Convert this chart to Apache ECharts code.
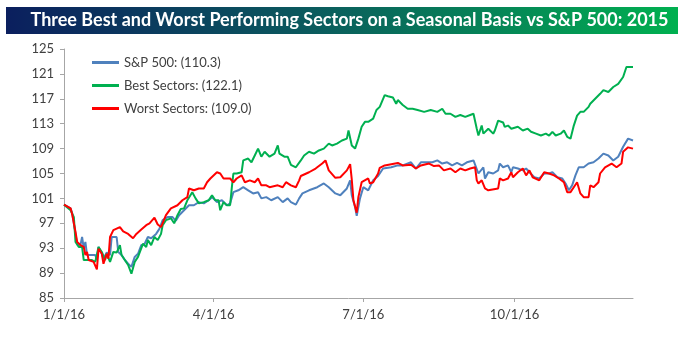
<!DOCTYPE html>
<html>
<head>
<meta charset="utf-8">
<script src="https://cdn.jsdelivr.net/npm/echarts@6/dist/echarts.min.js"></script>
<style>
  html, body { margin: 0; padding: 0; background: #fff; }
  #chart { width: 699px; height: 340px; }
</style>
</head>
<body>
<div id="chart"></div>
<script>
// Days are counted from 1/1/16 (day 0); values are indexed to 100 at the start.
const spDays = [0,4,5,7,8,10,11,12,13,14,17,19,20,21,23,24,26,28,29,32,33,35,37,39,41,43,45,47,49,51,53,56,58,60,63,66,68,70,73,76,79,82,85,88,90,93,96,99,101,103,106,109,112,115,118,120,123,126,130,133,136,138,141,143,145,149,154,158,161,165,168,172,174,175,177,178,180,182,185,188,191,194,199,203,206,211,214,217,221,224,227,230,233,236,239,242,245,249,250,252,255,256,258,261,264,265,267,270,272,273,276,279,281,283,286,289,292,295,297,300,303,305,307,309,311,313,316,319,322,325,328,331,334,337,340,343,346];
const spValues = [100.0,99.4,98.6,95.3,93.6,93.5,94.8,93.0,94.0,91.9,91.9,91.9,91.1,93.2,92.1,91.3,92.3,91.9,94.8,94.8,92.4,91.9,91.1,90.5,90.0,91.6,92.1,93.5,93.7,94.8,94.6,95.3,96.1,97.5,98.0,98.0,97.4,98.3,99.1,99.9,99.9,100.4,100.2,100.7,101.2,100.4,100.7,99.9,100.2,102.0,102.3,102.8,102.3,101.8,102.0,101.0,101.2,100.7,101.2,100.4,101.0,100.4,100.0,101.0,101.8,102.3,102.8,103.4,102.8,101.8,101.5,102.6,103.9,101.5,99.6,98.2,101.0,102.8,102.3,103.9,104.6,105.8,106.0,106.3,106.3,106.8,105.8,106.8,106.8,106.8,107.1,106.6,106.8,106.3,106.7,106.3,106.8,107.1,106.8,105.0,106.0,104.2,105.2,105.0,105.5,106.6,106.0,106.3,105.2,106.0,105.8,105.5,105.8,105.2,104.4,104.2,105.0,105.0,105.2,104.4,104.2,103.4,102.3,103.1,104.7,106.0,106.0,106.6,106.8,107.4,108.2,107.9,107.1,107.7,109.3,110.6,110.3];

const bestDays = [0,4,6,7,9,11,12,14,17,19,21,23,25,26,28,30,32,34,35,37,39,41,43,45,48,50,51,53,55,57,59,60,62,65,67,69,71,73,75,78,80,82,85,88,90,92,94,95,97,99,101,102,103,105,108,109,112,114,116,118,120,122,125,128,130,131,134,136,138,141,144,146,149,152,155,158,161,163,166,169,172,173,175,177,179,181,183,185,188,190,192,195,197,200,202,203,206,209,212,215,219,223,227,230,232,235,238,241,244,247,249,251,252,254,255,258,261,262,264,267,268,270,272,276,279,282,284,287,290,293,295,297,299,302,304,306,308,310,312,314,316,319,320,323,326,328,331,334,337,340,342,343,346];
const bestValues = [100.0,99.1,98.0,94.0,93.2,93.2,91.1,91.1,91.1,90.8,93.2,92.4,91.1,92.1,90.8,92.4,92.3,93.5,91.9,91.1,90.3,88.9,90.8,91.6,93.7,93.2,94.3,93.5,94.8,94.3,95.3,96.7,97.5,97.8,97.0,98.3,99.3,99.4,100.7,102.0,101.0,100.2,100.4,100.7,101.5,100.7,100.7,99.1,100.4,99.9,99.9,102.6,105.0,105.0,105.2,107.1,107.4,106.8,107.9,109.0,107.7,108.5,107.7,108.2,109.5,108.2,107.7,107.7,106.4,106.0,107.1,107.9,108.5,108.2,108.7,109.0,109.8,109.5,109.8,110.3,110.6,111.9,109.5,109.0,110.6,112.5,113.3,113.3,113.8,115.2,115.7,117.6,117.4,117.2,116.2,116.8,116.0,115.4,115.4,115.2,114.9,115.2,114.9,115.4,114.6,114.6,114.1,114.4,114.1,114.4,114.6,112.2,111.1,112.7,111.4,112.2,111.4,111.9,113.5,113.2,112.5,112.7,112.2,112.5,111.9,112.2,111.7,111.4,111.1,111.4,111.1,111.7,111.1,111.4,111.9,110.9,110.6,112.7,114.3,114.9,114.9,115.7,116.2,117.0,117.8,118.4,118.1,118.9,119.4,120.5,122.1,122.4,122.1];

const worstDays = [0,4,5,7,8,10,12,13,14,15,18,20,21,23,24,26,27,28,30,34,36,39,42,44,47,50,52,55,57,59,62,65,69,72,75,76,79,82,85,87,89,93,95,97,101,103,105,108,110,113,116,118,120,123,125,130,133,135,138,141,143,144,149,153,157,159,161,165,168,172,174,175,176,178,179,181,185,186,188,191,192,195,199,203,206,211,214,217,222,225,228,231,235,238,241,244,247,250,251,252,254,256,258,264,265,267,270,272,273,276,279,281,283,285,289,292,295,298,301,304,306,308,310,312,314,316,319,320,322,325,326,329,333,336,339,340,343,346];
const worstValues = [100.0,99.4,98.4,95.6,94.0,93.5,93.2,91.9,92.4,91.1,90.8,89.6,92.9,92.1,90.5,92.1,91.3,94.8,95.9,96.4,95.7,95.3,94.6,95.3,96.0,96.7,97.0,97.9,96.8,96.4,98.3,99.4,99.9,100.7,101.2,102.6,102.3,102.6,102.6,103.6,104.2,105.2,105.0,104.2,104.2,103.6,104.2,104.7,103.6,103.9,103.6,104.2,103.1,103.1,102.8,103.1,102.8,103.6,103.1,102.8,103.9,104.6,105.2,105.8,106.6,107.1,105.5,104.3,104.4,105.5,106.5,104.0,100.7,98.7,101.2,103.6,104.2,103.4,103.6,105.0,105.9,106.3,106.5,106.7,106.3,106.4,105.8,106.3,106.6,106.2,106.3,105.5,105.8,105.2,105.8,105.5,105.8,106.0,103.9,103.4,103.9,102.6,102.3,102.6,104.2,103.9,104.2,105.2,104.4,105.2,105.8,104.7,105.5,104.4,103.9,105.2,105.0,104.7,104.2,103.6,102.0,102.0,102.8,103.6,101.8,101.2,101.2,103.1,102.8,103.6,105.0,106.0,106.6,106.0,106.6,108.5,109.2,109.0];

const yTicks = [85, 89, 93, 97, 101, 105, 109, 113, 117, 121, 125];
const quarterStarts = ['2016-01-01', '2016-04-01', '2016-07-01', '2016-10-01'];
const seriesNames = ['S&P 500', 'Best Sectors', 'Worst Sectors'];
const chartTitle = 'Three Best and Worst Performing Sectors on a Seasonal Basis vs S&P 500: 2015';

const DAY_MS = 86400000;
const yearStart = Date.UTC(2016, 0, 1);
const isoToDay = s => { const p = s.split('-').map(Number); return Math.round((Date.UTC(p[0], p[1] - 1, p[2]) - yearStart) / DAY_MS); };
const dayLabel = d => { const t = new Date(yearStart + d * DAY_MS); return (t.getUTCMonth() + 1) + '/' + t.getUTCDate() + '/' + String(t.getUTCFullYear()).slice(2); };
const pairs = (days, vals) => days.map((d, i) => [d, vals[i]]);
const label = (name, vals) => name + ': (' + vals[vals.length - 1].toFixed(1) + ')';
const quarterDays = quarterStarts.map(isoToDay);

const sources = [
  { name: label(seriesNames[0], spValues), data: pairs(spDays, spValues), color: '#4f81bd' },
  { name: label(seriesNames[1], bestValues), data: pairs(bestDays, bestValues), color: '#00b050' },
  { name: label(seriesNames[2], worstValues), data: pairs(worstDays, worstValues), color: '#ff0000' }
];

const font = 'Lato, "Open Sans", sans-serif';
const textColor = '#404040';
const axisGrey = '#a6a6a6';

const chart = echarts.init(document.getElementById('chart'), null, { renderer: 'canvas' });
chart.setOption({
  animation: false,
  backgroundColor: '#ffffff',
  graphic: [
    {
      type: 'rect', left: 6, top: 7, z: 10,
      shape: { width: 672, height: 27 },
      style: {
        fill: new echarts.graphic.LinearGradient(0, 0, 1, 0, [
          { offset: 0, color: '#0b1f5e' },
          { offset: 0.45, color: '#0b5a5e' },
          { offset: 1, color: '#00b050' }
        ])
      }
    },
    {
      type: 'text', left: 'center', top: 11, z: 11,
      style: { text: chartTitle, fill: '#ffffff', font: 'bold 18px ' + font }
    }
  ],
  grid: { left: 64, right: 66, top: 49, bottom: 42, containLabel: false },
  legend: {
    orient: 'vertical', left: 87, top: 51, itemGap: 10,
    icon: 'rect', itemWidth: 27, itemHeight: 3,
    textStyle: { color: textColor, fontFamily: font, fontSize: 13 },
    data: sources.map(s => s.name)
  },
  xAxis: {
    type: 'value',
    min: 0,
    max: spDays[spDays.length - 1],
    axisLine: { lineStyle: { color: axisGrey, width: 1 } },
    axisTick: { show: true, length: 4, lineStyle: { color: axisGrey }, customValues: quarterDays },
    axisLabel: {
      color: textColor, fontFamily: font, fontSize: 13, margin: 10,
      customValues: quarterDays,
      formatter: v => dayLabel(v)
    },
    splitLine: { show: false }
  },
  yAxis: {
    type: 'value', min: 85, max: 125,
    axisLine: { show: true, lineStyle: { color: axisGrey, width: 1 } },
    axisTick: { show: true, length: 4, lineStyle: { color: axisGrey }, customValues: yTicks },
    axisLabel: { color: textColor, fontFamily: font, fontSize: 13, margin: 10, customValues: yTicks },
    splitLine: { show: false }
  },
  series: sources.map(s => ({
    name: s.name, type: 'line', data: s.data, showSymbol: false, symbol: 'none',
    lineStyle: { color: s.color, width: 2 }, itemStyle: { color: s.color }
  }))
});
</script>
</body>
</html>
